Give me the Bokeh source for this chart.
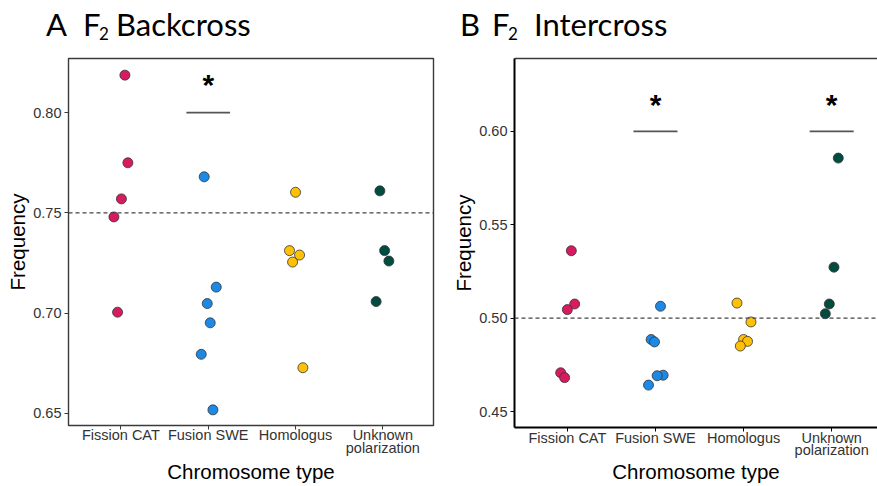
from bokeh.plotting import figure
from bokeh.layouts import row, column
from bokeh.models import (ColumnDataSource, Range1d, FixedTicker, Span, Div,
                          LinearAxis, NumeralTickFormatter)
from bokeh.core.properties import value
from bokeh.embed import file_html
from bokeh.resources import INLINE

categories = ["Fission CAT", "Fusion SWE", "Homologus", "Unknown\npolarization"]
colors = ["#D81B60", "#1E88E5", "#FFC107", "#004D40"]

# Panel A: F2 Backcross  (category index, jitter offset, frequency)
a_cat = [1, 1, 1, 1, 1, 2, 2, 2, 2, 2, 2, 3, 3, 3, 3, 3, 4, 4, 4, 4]
a_jit = [0.046, 0.08, 0.006, -0.08, -0.038,
         -0.046, 0.092, -0.011, 0.023, -0.08, 0.054,
         0.0, -0.069, 0.046, -0.034, 0.084,
         -0.034, 0.02, 0.069, -0.077]
a_freq = [0.8187, 0.775, 0.757, 0.748, 0.7005,
          0.768, 0.713, 0.7048, 0.6952, 0.6795, 0.6518,
          0.7603, 0.7312, 0.729, 0.7255, 0.6728,
          0.761, 0.7312, 0.726, 0.7058]
a_sig_cat = [2]
a_sig_y = 0.80
a_ref = 0.75
a_yticks = [0.65, 0.70, 0.75, 0.80]

# Panel B: F2 Intercross
b_cat = [1, 1, 1, 1, 1, 2, 2, 2, 2, 2, 2, 3, 3, 3, 3, 3, 4, 4, 4, 4]
b_jit = [0.045, 0.083, 0.0, -0.076, -0.031,
         0.057, -0.049, -0.011, 0.087, 0.019, -0.079,
         -0.075, 0.084, 0.0, 0.045, -0.037,
         0.075, 0.026, -0.027, -0.072]
b_freq = [0.5361, 0.5076, 0.5046, 0.4708, 0.4682,
          0.5064, 0.4886, 0.4873, 0.4695, 0.4692, 0.4642,
          0.5081, 0.498, 0.4886, 0.4876, 0.4851,
          0.5857, 0.5273, 0.5076, 0.5024]
b_sig_cat = [2, 4]
b_sig_y = 0.60
b_ref = 0.50
b_yticks = [0.45, 0.50, 0.55, 0.60]

AX_FONT = "Liberation Sans"
TITLE_FONT = "Lato"
TITLE_H = 40


def make_panel(cat, jit, freq, sig_cat, sig_y, ref, yticks, yr, xr, width,
               border_left, border_right, border_bottom, boxed, star_off,
               tick_standoff, tick_line_h, xlab_standoff, ylab_standoff):
    p = figure(width=width, height=486 - TITLE_H, output_backend="svg",
               toolbar_location=None,
               x_range=Range1d(*xr), y_range=Range1d(*yr),
               min_border_left=border_left, min_border_right=border_right,
               min_border_top=58 - TITLE_H, min_border_bottom=border_bottom)
    p.xgrid.visible = False
    p.ygrid.visible = False
    p.background_fill_color = "white"
    p.border_fill_color = "white"

    xs = [c + j for c, j in zip(cat, jit)]
    cols = [colors[c - 1] for c in cat]
    src = ColumnDataSource(dict(x=xs, y=freq, c=cols))

    p.add_layout(Span(location=ref, dimension="width", line_color="#444444",
                      line_dash="4 3", line_width=1.3))

    p.scatter("x", "y", source=src, size=10, fill_color="c",
              line_color="#333333", line_width=0.8)

    seg = ColumnDataSource(dict(x0=[c - 0.25 for c in sig_cat],
                                x1=[c + 0.25 for c in sig_cat],
                                y=[sig_y] * len(sig_cat),
                                ys=[sig_y + star_off] * len(sig_cat),
                                xc=sig_cat, t=["*"] * len(sig_cat)))
    p.segment(x0="x0", y0="y", x1="x1", y1="y", source=seg,
              line_color="#555555", line_width=1.6)
    p.text(x="xc", y="ys", text="t", source=seg, text_font=value(AX_FONT),
           text_font_size="30px", text_font_style="bold", text_align="center",
           text_baseline="middle", text_color="black")

    for ax in (p.xaxis[0], p.yaxis[0]):
        ax.major_tick_out = 4
        ax.major_tick_in = 0
        ax.minor_tick_out = 0
        ax.minor_tick_in = 0
        ax.major_label_text_font = AX_FONT
        ax.major_label_text_font_size = "14.5px"
        ax.major_label_text_color = "#333333"
        ax.axis_label_text_font = AX_FONT
        ax.axis_label_text_font_size = "20.5px"
        ax.axis_label_text_font_style = "normal"
        ax.axis_label_text_color = "black"
    p.xaxis.ticker = FixedTicker(ticks=[1, 2, 3, 4])
    p.xaxis.major_label_overrides = {i + 1: categories[i] for i in range(4)}
    p.xaxis.major_label_standoff = tick_standoff
    p.xaxis.major_label_text_line_height = tick_line_h
    p.xaxis.axis_label = "Chromosome type"
    p.xaxis.axis_label_standoff = xlab_standoff
    p.xaxis.axis_label_text_line_height = 0.9
    p.yaxis.ticker = FixedTicker(ticks=yticks)
    p.yaxis.formatter = NumeralTickFormatter(format="0.00")
    p.yaxis.major_label_standoff = 3
    p.yaxis.axis_label = "Frequency"
    p.yaxis.axis_label_standoff = ylab_standoff

    if boxed:
        p.outline_line_color = "#3a3a3a"
        p.outline_line_width = 1.4
        p.xaxis.axis_line_color = None
        p.yaxis.axis_line_color = None
        p.xaxis.major_tick_line_color = "#3a3a3a"
        p.yaxis.major_tick_line_color = "#3a3a3a"
    else:
        p.outline_line_color = None
        p.xaxis.axis_line_color = "black"
        p.xaxis.axis_line_width = 2
        p.yaxis.axis_line_color = "black"
        p.yaxis.axis_line_width = 2
        top = LinearAxis(ticker=FixedTicker(ticks=[]), major_label_text_font_size="0px",
                         major_label_standoff=0,
                         axis_line_color="#3a3a3a", axis_line_width=1.4,
                         major_tick_line_color=None, minor_tick_line_color=None)
        p.add_layout(top, "above")

    return p


pa = make_panel(a_cat, a_jit, a_freq, a_sig_cat, a_sig_y, a_ref, a_yticks,
                (0.644, 0.827), (0.4, 4.58), 440, 68, 7, 61, True, 0.014,
                -3, 0.86, 1, 1)
pb = make_panel(b_cat, b_jit, b_freq, b_sig_cat, b_sig_y, b_ref, b_yticks,
                (0.4415, 0.639), (0.4, 4.52), 437, 74, 0, 56, False, 0.0145,
                -2, 0.8, -1, 1)


def title_html(x_letter, x_f, x_2, x_rest, letter, rest):
    s = ("position:absolute; font-family:'{f}'; font-size:31px; "
         "line-height:31px; color:black; white-space:nowrap;").format(f=TITLE_FONT)
    return (
        '<span style="{s} left:{a}px; top:9px;">{L}</span>'
        '<span style="{s} left:{b}px; top:9px;">F</span>'
        '<span style="{s} left:{c}px; top:25px; font-size:17px; line-height:17px;">2</span>'
        '<span style="{s} left:{d}px; top:9px;">{R}</span>'
    ).format(s=s, a=x_letter, b=x_f, c=x_2, d=x_rest, L=letter, R=rest)


titles = Div(
    text=('<div style="position:relative; width:877px; height:{h}px;">'.format(h=TITLE_H)
          + title_html(46, 83, 99, 116, "A", "Backcross")
          + title_html(460, 492, 508, 534, "B", "Intercross")
          + '</div>'),
    width=877, height=TITLE_H, margin=0)

layout = column(titles, row(column(pa), column(pb), spacing=0), spacing=0)
open("out.html", "w").write(file_html(layout, INLINE))
